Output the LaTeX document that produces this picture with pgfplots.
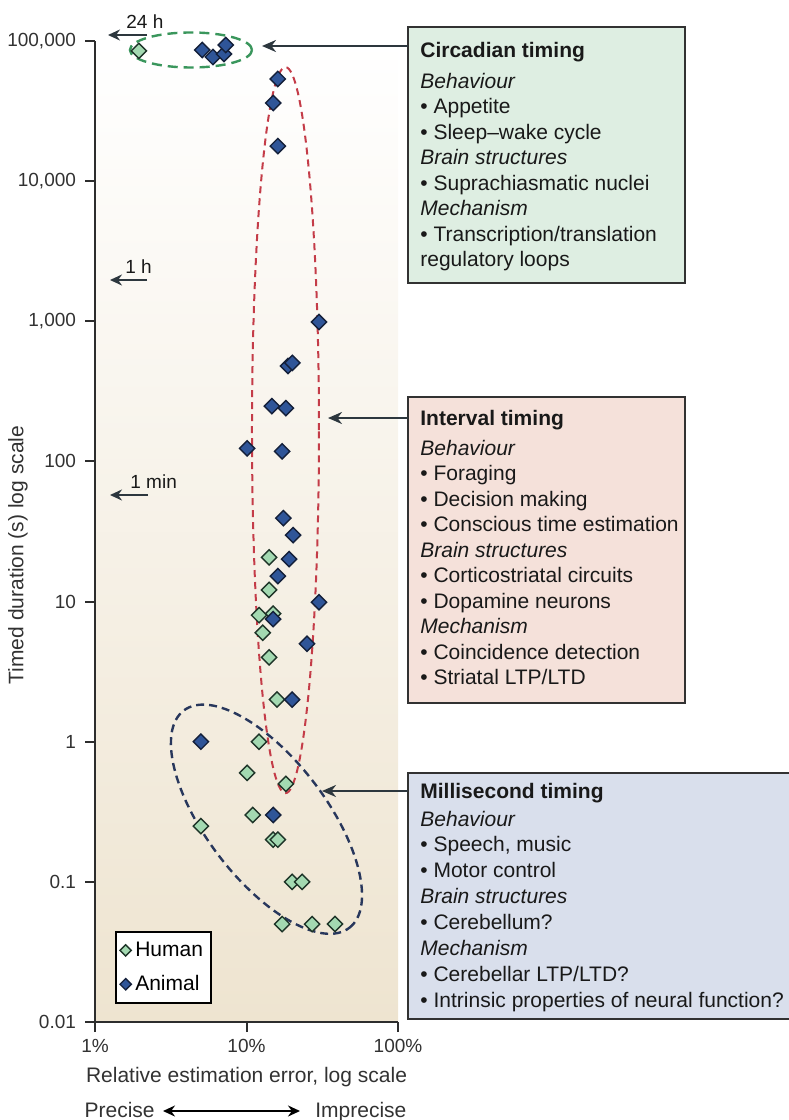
\documentclass[border=0pt]{standalone}
\usepackage{fontspec}
\setmainfont{Liberation Sans}
\usepackage{pgfplots}
\pgfplotsset{compat=1.18}
\usetikzlibrary{arrows.meta}

\definecolor{humanfill}{RGB}{163,217,177}
\definecolor{humanedge}{RGB}{30,52,40}
\definecolor{animalfill}{RGB}{47,85,152}
\definecolor{animaledge}{RGB}{20,32,58}
\definecolor{reddash}{RGB}{196,60,72}
\definecolor{greendash}{RGB}{58,150,92}
\definecolor{bluedash}{RGB}{40,55,92}
\definecolor{circfill}{RGB}{222,238,226}
\definecolor{intfill}{RGB}{245,225,218}
\definecolor{msfill}{RGB}{217,223,236}
\definecolor{boxedge}{RGB}{50,50,50}
\definecolor{arrowcol}{RGB}{45,55,62}
\definecolor{axisgray}{RGB}{45,45,45}
\definecolor{labelgray}{RGB}{50,50,50}
\definecolor{bgbottom}{RGB}{238,228,208}

\begin{document}
\begin{tikzpicture}
\path[use as bounding box] (0,0) rectangle (394pt,-560pt);
\begin{axis}[
  at={(47.5pt,-511pt)}, anchor=south west,
  scale only axis, width=151.5pt, height=490.5pt,
  xmode=log, ymode=log,
  xmin=1, xmax=100, ymin=0.01, ymax=100000,
  axis x line*=bottom, axis y line*=left,
  axis line style={line width=1pt, draw=axisgray},
  tick align=outside, major tick length=5pt,
  major tick style={line width=1pt, draw=axisgray},
  xminorticks=false, yminorticks=false,
  xtick={1,10,100}, xticklabels={1\%,10\%,100\%},
  ytick={0.01,0.1,1,10,100,1000,10000,100000},
  yticklabels={0.01,0.1,1,10,100,{1,000},{10,000},{100,000}},
  tick label style={font=\fontsize{9.5}{11}\selectfont, text=labelgray},
  yticklabel style={xshift=-1pt},
  clip=false,
  axis background/.style={top color=white, bottom color=bgbottom},
  xlabel={Relative estimation error, log scale},
  ylabel={Timed duration (s) log scale},
  label style={font=\fontsize{10.5}{12}\selectfont, text=labelgray},
  xlabel style={at={(axis description cs:0.5,-0.0612)}, anchor=base},
  ylabel style={at={(axis description cs:-0.254,0.476)}, anchor=center},
  legend style={at={(0.066,0.018)}, anchor=south west, draw=black,
    line width=1pt, fill=white, font=\fontsize{10.5}{12}\selectfont,
    inner xsep=2pt, inner ysep=3pt, row sep=4pt},
  legend cell align=left,
  legend image post style={mark size=2pt, line width=0.6pt},
]
% groupings
\draw[greendash, line width=1.2pt, dash pattern=on 5pt off 3pt]
  (axis cs:4.30,86280) ellipse [x radius=30.5pt, y radius=8.75pt];
\draw[reddash, line width=1pt, dash pattern=on 3.5pt off 2.5pt]
  (axis cs:18.09,167.2) ellipse [x radius=16.75pt, y radius=181.5pt];
\draw[bluedash, line width=1.2pt, dash pattern=on 4pt off 2.5pt,
  rotate around={-52.7:(axis cs:13.55,0.28)}]
  (axis cs:13.55,0.28) ellipse [x radius=68.3pt, y radius=30pt];

\addplot[only marks, mark=square*, mark size=2.7pt,
  mark options={rotate=45, fill=humanfill, draw=humanedge, line width=0.7pt}]
  coordinates {
  (1.95,85000) (14.1,20.7) (14.1,12.1) (12.1,8.0) (15.0,8.2) (12.8,6.0)
  (14.1,4.0) (15.9,2.0) (12.1,1.0) (10.1,0.6) (18.2,0.5) (11.0,0.3)
  (5.0,0.25) (15.0,0.2) (16.1,0.2) (20.0,0.1) (23.3,0.1)
  (17.2,0.05) (27.1,0.05) (38.4,0.05)
  };
\addlegendentry{Human}
\addplot[only marks, mark=square*, mark size=2.7pt,
  mark options={rotate=45, fill=animalfill, draw=animaledge, line width=0.7pt}]
  coordinates {
  (5.1,86300) (6.0,76900) (7.1,80800) (7.3,93600)
  (16.1,53600) (15.0,36100) (16.1,17800)
  (30.1,990) (18.8,480) (20.1,505) (14.7,248) (18.2,240)
  (10.1,124) (17.2,118) (17.5,39.4) (20.3,29.8) (19.1,20.1)
  (16.1,15.2) (30.1,9.9) (15.0,7.5) (25.1,5.0) (20.0,2.0)
  (5.0,1.0) (15.0,0.3)
  };
\addlegendentry{Animal}
\end{axis}

\begin{scope}[x=0.5pt, y=-0.5pt,
  every node/.style={inner sep=0pt, font=\fontsize{10.5}{12}\selectfont, text=black!90}]
  % boxes
  \filldraw[fill=circfill, draw=boxedge, line width=0.8pt] (408,27) rectangle (685,283);
  \filldraw[fill=intfill, draw=boxedge, line width=0.8pt] (408,397) rectangle (685,703);
  \filldraw[fill=msfill, draw=boxedge, line width=0.8pt] (408,773) rectangle (800,1019);
  % pointers from the boxes
  \draw[arrowcol, line width=1.35pt, -{Stealth[length=7pt, width=6pt]}] (408,46) -- (262,46);
  \draw[arrowcol, line width=1.35pt, -{Stealth[length=7pt, width=6pt]}] (408,418) -- (328,418);
  \draw[arrowcol, line width=1.35pt, -{Stealth[length=7pt, width=6pt]}] (408,791) -- (322,791);
  % time marks
  \draw[arrowcol, line width=1.3pt, -{Stealth[length=6pt, width=5.5pt]}] (147,35) -- (108,35);
  \node[anchor=base west, font=\fontsize{9.5}{11}\selectfont] at (126,28) {24 h};
  \draw[arrowcol, line width=1.3pt, -{Stealth[length=6pt, width=5.5pt]}] (147,280) -- (110,280);
  \node[anchor=base west, font=\fontsize{9.5}{11}\selectfont] at (125,273) {1 h};
  \draw[arrowcol, line width=1.3pt, -{Stealth[length=6pt, width=5.5pt]}] (148,495) -- (110,495);
  \node[anchor=base west, font=\fontsize{9.5}{11}\selectfont] at (130,488) {1 min};
  % precise / imprecise
  \node[anchor=base east, text=labelgray] at (155,1117) {Precise};
  \draw[black, line width=1.2pt, {Stealth[length=6pt, width=5.5pt]}-{Stealth[length=6pt, width=5.5pt]}] (163,1111) -- (300,1111);
  \node[anchor=base west, text=labelgray] at (315,1117) {Imprecise};

  % circadian
  \node[anchor=base west, font=\fontsize{10.5}{12}\selectfont\bfseries] at (420,57) {Circadian timing};
  \foreach \t [count=\i from 0] in {\textit{Behaviour}, • Appetite, • Sleep–wake cycle,
      \textit{Brain structures}, • Suprachiasmatic nuclei, \textit{Mechanism},
      • Transcription/translation, regulatory loops}
    \node[anchor=base west] at (420,{88+25.5*\i}) {\t};
  % interval
  \node[anchor=base west, font=\fontsize{10.5}{12}\selectfont\bfseries] at (420,425) {Interval timing};
  \foreach \t [count=\i from 0] in {\textit{Behaviour}, • Foraging, • Decision making,
      • Conscious time estimation, \textit{Brain structures}, • Corticostriatal circuits,
      • Dopamine neurons, \textit{Mechanism}, • Coincidence detection, • Striatal LTP/LTD}
    \node[anchor=base west] at (420,{455+25.5*\i}) {\t};
  % millisecond
  \node[anchor=base west, font=\fontsize{10.5}{12}\selectfont\bfseries] at (420,798) {Millisecond timing};
  \foreach \t [count=\i from 0] in {\textit{Behaviour}, {• Speech, music}, • Motor control,
      \textit{Brain structures}, • Cerebellum?, \textit{Mechanism},
      • Cerebellar LTP/LTD?, • Intrinsic properties of neural function?}
    \node[anchor=base west] at (420,{826+25.9*\i}) {\t};
\end{scope}
\end{tikzpicture}
\end{document}
